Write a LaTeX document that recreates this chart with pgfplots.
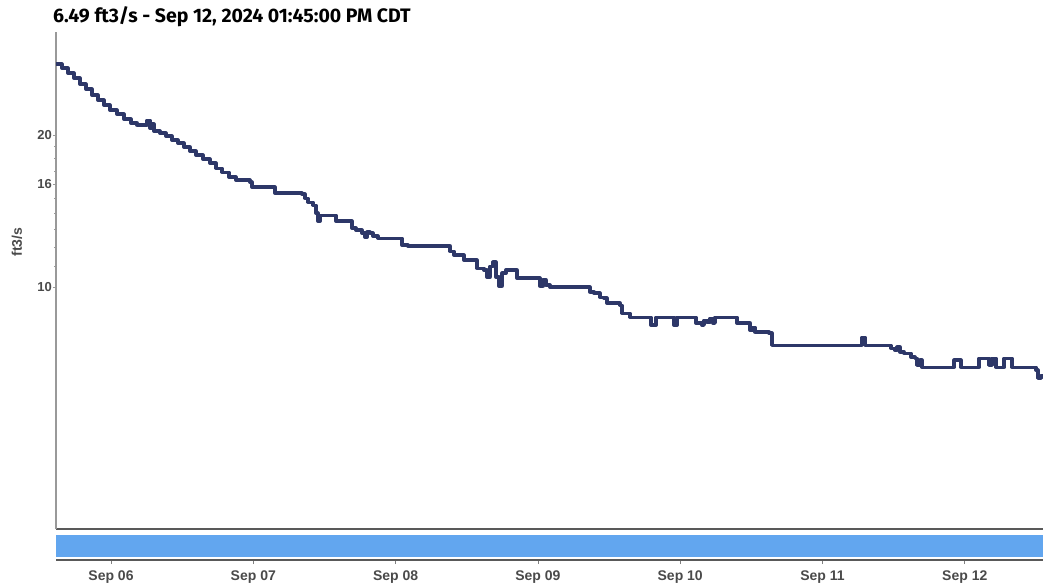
\documentclass[border=0pt]{standalone}
\usepackage{pgfplots}
\pgfplotsset{compat=1.18}
\usepackage{fontspec}
\setmainfont{Liberation Sans}
\newfontfamily\titlefont{Fira Sans}
\definecolor{flowline}{HTML}{2D3768}
\definecolor{navblue}{HTML}{62A6EF}
\definecolor{ticktext}{HTML}{4A4A4A}

\begin{document}
\begin{tikzpicture}[x=1pt,y=1pt]
	\useasboundingbox (0,0) rectangle (1043,586);

	% Abfluss (ft3/s), x in Tagen ab Sep 06 00:00
	\begin{axis}[
		at={(56pt,57pt)}, anchor=south west,
		scale only axis, width=987pt, height=497pt,
		xmin=-0.3865, xmax=6.5495,
		ymode=log, ymin=3.32, ymax=32.0,
		axis x line=bottom, axis y line=left,
		axis line style={-},
		x axis line style={draw=black!65, line width=1.6pt},
		y axis line style={draw=black!40, line width=1.6pt},
		xtick=\empty,
		ytick={10,16,20}, yticklabels={10,16,20},
		minor ytick={11,12,13,14,15,17,18,19},
		tick style={draw=black!40},
		major tick length=3pt, minor tick length=2pt,
		tick align=outside,
		yticklabel style={font=\bfseries\fontsize{13}{13}\selectfont, text=ticktext, inner sep=1pt},
		clip=false,
		]
		\addplot[const plot, color=flowline, line width=3.3pt, line join=round] coordinates {
			(-0.3865,27.64) (-0.3443,27.14) (-0.3022,26.53) (-0.2600,25.93)
			(-0.2178,25.23) (-0.1757,24.66) (-0.1335,24.00) (-0.0914,23.46)
			(-0.0492,22.93) (-0.0070,22.41) (0.0422,22.01) (0.0914,21.51)
			(0.1406,21.13) (0.1827,20.94) (0.2530,21.40) (0.2741,20.65)
			(0.2881,21.03) (0.3022,20.37) (0.3443,20.18) (0.3865,19.91)
			(0.4287,19.55) (0.4708,19.28) (0.5130,18.94) (0.5552,18.59)
			(0.5973,18.26) (0.6465,17.93) (0.6957,17.60) (0.7379,17.20)
			(0.7800,16.89) (0.8292,16.51) (0.8784,16.29) (0.9768,16.14)
			(0.9909,15.78) (1.1525,15.35) (1.3422,15.28) (1.3633,15.00)
			(1.3844,14.73) (1.4195,14.53) (1.4406,14.01) (1.4547,13.51)
			(1.4687,13.88) (1.5812,13.51) (1.6936,13.09) (1.7217,12.97)
			(1.7639,12.79) (1.7849,12.56) (1.7990,12.85) (1.8201,12.79)
			(1.8412,12.62) (1.8763,12.50) (2.0450,12.11) (2.0871,12.06)
			(2.3823,11.78) (2.4104,11.57) (2.4807,11.31) (2.5720,10.90)
			(2.6212,10.81) (2.6423,10.47) (2.6634,11.00) (2.6845,11.21)
			(2.7056,10.47) (2.7266,10.05) (2.7477,10.66) (2.7758,10.81)
			(2.8531,10.42) (3.0148,10.05) (3.0358,10.33) (3.0569,10.09)
			(3.0850,10.00) (3.3661,9.78) (3.3943,9.73) (3.4364,9.55)
			(3.4645,9.51) (3.4856,9.30) (3.5770,9.21) (3.5910,8.88)
			(3.6472,8.72) (3.7948,8.41) (3.8299,8.72) (3.9565,8.41)
			(3.9775,8.72) (4.1110,8.49) (4.1532,8.41) (4.1673,8.60)
			(4.1883,8.52) (4.2094,8.68) (4.2305,8.49) (4.2446,8.72)
			(4.3992,8.49) (4.4905,8.22) (4.5116,8.33) (4.5256,8.15)
			(4.6240,8.11) (4.6451,7.67) (5.2776,7.96) (5.2987,7.67)
			(5.4814,7.57) (5.5095,7.50) (5.5236,7.61) (5.5446,7.44)
			(5.5727,7.40) (5.6219,7.27) (5.6500,7.23) (5.6641,7.00)
			(5.6852,7.17) (5.6992,6.94) (5.9241,7.17) (5.9733,6.94)
			(6.0998,7.23) (6.1701,7.00) (6.1911,7.23) (6.2192,6.94)
			(6.2755,7.23) (6.3317,6.94) (6.5003,6.85) (6.5144,6.60)
			(6.5355,6.67) (6.5495,6.67)
		};
	\end{axis}

	% Navigator-Leiste mit Datumsachse
	\begin{axis}[
		at={(56pt,26pt)}, anchor=south west,
		scale only axis, width=987pt, height=27pt,
		xmin=-0.3865, xmax=6.5495, ymin=0, ymax=1,
		axis x line=bottom, axis y line=none,
		axis line style={-, draw=black!65, line width=1.4pt},
		xtick={0,1,2,3,4,5,6},
		xticklabels={Sep 06,Sep 07,Sep 08,Sep 09,Sep 10,Sep 11,Sep 12},
		xticklabel style={font=\bfseries\fontsize{14}{14}\selectfont, text=ticktext, yshift=-3pt},
		tick style={draw=black!50, line width=0.8pt},
		major tick length=4pt, tick align=outside,
		]
		\addplot[fill=navblue, draw=none] coordinates {
			(-0.3865,0.11) (6.5495,0.11) (6.5495,0.93) (-0.3865,0.93)
		} -- cycle;
	\end{axis}

	\node[anchor=west, inner sep=0pt] at (53,569) {\titlefont\bfseries\fontsize{19.5}{19.5}\selectfont 6.49 ft3/s - Sep 12, 2024 01:45:00 PM CDT};
	\node[rotate=90, inner sep=0pt, text=ticktext] at (17,344) {\bfseries\fontsize{14}{14}\selectfont ft3/s};
\end{tikzpicture}
\end{document}
